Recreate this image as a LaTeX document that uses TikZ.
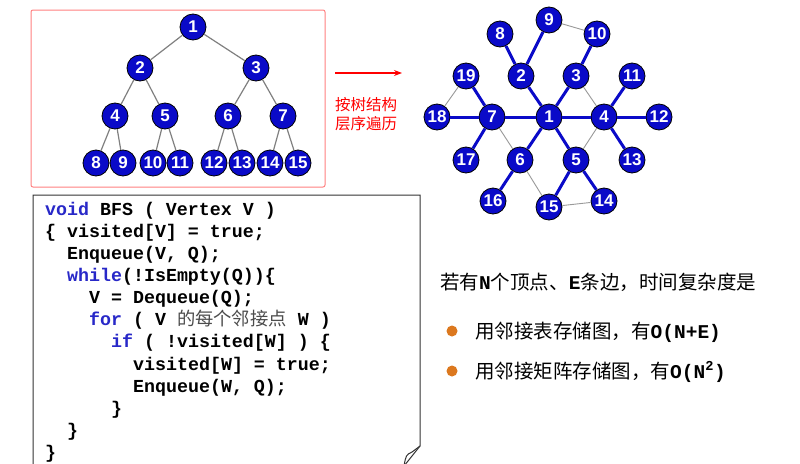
\documentclass[tikz,border=0pt]{standalone}
\usepackage{fontspec}
\setmainfont{Liberation Sans}
\setmonofont{Liberation Mono}
\newfontfamily\cjk{Noto Sans CJK SC}
\usetikzlibrary{arrows.meta}

\definecolor{vblue}{RGB}{10,10,200}
\definecolor{kwblue}{RGB}{40,40,200}
\definecolor{bulorange}{RGB}{220,120,30}
\tikzset{
	vtx/.style={circle,fill=vblue,draw=black,line width=0.8pt,minimum size=26pt,inner sep=0pt,
		text=white,font=\fontsize{17}{17}\selectfont\bfseries},
	tedge/.style={draw=gray,line width=1.2pt},
	bedge/.style={draw=vblue,line width=3pt},
	gedge/.style={draw=gray!80,line width=0.9pt},
	code/.style={anchor=base west,inner sep=0pt,font=\fontsize{18.3}{18.3}\selectfont\ttfamily\bfseries},
	cjktext/.style={anchor=base west,inner sep=0pt,font=\cjk\fontsize{19.5}{19.5}\selectfont}
}
\newcommand{\kwd}[1]{\textcolor{kwblue}{#1}}

\begin{document}
\begin{tikzpicture}[x=1pt,y=-1pt]
	\useasboundingbox (0,0) rectangle (800,463);
	\fill[white] (0,0) rectangle (800,463);

	% tree
	\draw[red!50,line width=1pt,rounded corners=2pt] (31,10) rectangle (325,187);
	\node[vtx] (t1) at (193,27) {1};
	\node[vtx] (t2) at (140,68) {2};
	\node[vtx] (t3) at (256,68) {3};
	\node[vtx] (t4) at (115,116) {4};
	\node[vtx] (t5) at (165,116) {5};
	\node[vtx] (t6) at (228,116) {6};
	\node[vtx] (t7) at (283,116) {7};
	\foreach \n/\x in {8/96,9/123,10/153,11/180,12/214,13/242,14/270,15/298}
		\node[vtx] (t\n) at (\x,163) {\n};
	\foreach \a/\b in {1/2,1/3,2/4,2/5,3/6,3/7,4/8,4/9,5/10,5/11,6/12,6/13,7/14,7/15}
		\draw[tedge] (t\a) -- (t\b);

	% arrow and label
	\coordinate (arrS) at (335,73);
	\coordinate (arrE) at (402,73);
	\draw[red,line width=1.2pt,-{Stealth[length=8pt]}] (arrS) -- (arrE);
	\node[text=red,font=\cjk\fontsize{15.5}{15.5}\selectfont,align=center] (lbl) at (366,114) {按树结构\\[3pt]层序遍历};

	% graph
	\node[vtx] (g1) at (549,117) {1};
	\node[vtx] (g2) at (521,76) {2};
	\node[vtx] (g3) at (576,76) {3};
	\node[vtx] (g4) at (604,117) {4};
	\node[vtx] (g5) at (576,160) {5};
	\node[vtx] (g6) at (520,160) {6};
	\node[vtx] (g7) at (492,117) {7};
	\node[vtx] (g8) at (500,34) {8};
	\node[vtx] (g9) at (549,20) {9};
	\node[vtx] (g10) at (597,34) {10};
	\node[vtx] (g11) at (632,76) {11};
	\node[vtx] (g12) at (659,117) {12};
	\node[vtx] (g13) at (632,160) {13};
	\node[vtx] (g14) at (604,201) {14};
	\node[vtx] (g15) at (549,207) {15};
	\node[vtx] (g16) at (493,201) {16};
	\node[vtx] (g17) at (466,160) {17};
	\node[vtx] (g18) at (437,117) {18};
	\node[vtx] (g19) at (466,76) {19};
	\foreach \a/\b in {1/2,1/3,1/4,1/5,1/6,1/7,2/8,2/9,3/10,4/11,4/12,4/13,5/14,5/15,6/16,7/17,7/18,7/19}
		\draw[bedge] (g\a) -- (g\b);
	\foreach \a/\b in {9/10,18/19,3/4,4/5,7/6,6/15,15/14}
		\draw[gedge] (g\a) -- (g\b);

	% code box
	\draw[black!80,line width=1pt,fill=white] (33,466) -- (33,195) -- (420,195) -- (420,446)
		-- (404,466);
	\draw[black!80,line width=1pt] (404,466) .. controls (406,455) .. (412,452) -- (420,446);
	\node[code] (c1) at (45,215) {\kwd{void} BFS ( Vertex V )};
	\node[code] (c2) at (45,237) {\{ visited[V] = true;};
	\node[code] (c3) at (67,259) {Enqueue(V, Q);};
	\node[code] (c4) at (67,281) {\kwd{while}(!IsEmpty(Q))\{};
	\node[code] (c5) at (89,303) {V = Dequeue(Q);};
	\node[code] (c6) at (89,325) {\kwd{for} ( V {\cjk\mdseries\color{black!70}的每个邻接点} W )};
	\node[code] (c7) at (111,347) {\kwd{if} ( !visited[W] ) \{};
	\node[code] (c8) at (133,370) {visited[W] = true;};
	\node[code] (c9) at (133,392) {Enqueue(W, Q);};
	\node[code] (c10) at (111,414) {\}};
	\node[code] (c11) at (67,436) {\}};
	\node[code] (c12) at (45,458) {\}};

	% complexity
	\node[cjktext] (cx) at (440,289)
		{若有{\ttfamily\bfseries N}个顶点、{\ttfamily\bfseries E}条边，时间复杂度是};
	\fill[bulorange] (452,331) circle (5.5);
	\fill[bulorange] (452,371) circle (5.5);
	\node[cjktext] (b1) at (475,338)
		{用邻接表存储图，有{\ttfamily\bfseries O(N+E)}};
	\node[cjktext] (b2) at (475,378)
		{用邻接矩阵存储图，有{\ttfamily\bfseries O(N\textsuperscript{2})}};
\end{tikzpicture}
\end{document}
